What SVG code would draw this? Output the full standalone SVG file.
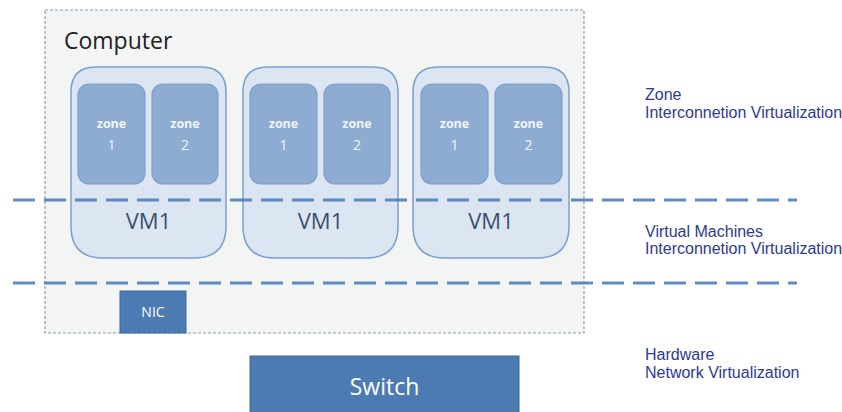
<svg xmlns="http://www.w3.org/2000/svg" width="842" height="412" viewBox="0 0 842 412">
  <style>
    .computer { fill: #f3f4f4; stroke: #8a9bb3; stroke-width: 1.2; stroke-dasharray: 3 2; }
    .vm { fill: #dce6f2; stroke: #7d9fcd; stroke-width: 1.5; }
    .zone { fill: #8eabd1; stroke: #7d9fcd; stroke-width: 1.2; }
    .hw { fill: #4b7bb2; stroke: #41699a; stroke-width: 1; }
    .layer { stroke: #4f7fbd; stroke-width: 3; stroke-dasharray: 22 9; fill: none; opacity: 0.9; }
    .zt { font-family: "Open Sans", "DejaVu Sans", sans-serif; font-weight: bold; font-size: 12.5px; fill: #f2f5fa; text-anchor: middle; }
    .zn { font-family: "Open Sans", "DejaVu Sans", sans-serif; font-size: 14px; fill: #f2f5fa; text-anchor: middle; }
    .vmt { font-family: "Open Sans", "DejaVu Sans", sans-serif; font-size: 22px; fill: #3b4f6e; text-anchor: middle; }
    .side { font-family: "Liberation Sans", Arial, sans-serif; font-size: 16px; fill: #2e3a94; }
    .hwt { font-family: "Open Sans", "DejaVu Sans", sans-serif; fill: #ffffff; text-anchor: middle; }
  </style>

  <!-- host machine -->
  <g id="computer">
    <rect class="computer" x="45" y="10" width="539" height="323"/>
    <text x="64" y="49" font-family="'Open Sans', 'DejaVu Sans', sans-serif" font-size="23" fill="#222222">Computer</text>
  </g>

  <!-- virtual machine A -->
  <g id="vm-a">
    <path class="vm" d="M96 67 H201 Q226 67 226 92 V226 Q226 258 194 258 H103 Q71 258 71 226 V92 Q71 67 96 67 Z"/>
    <rect class="zone" x="78" y="84" width="67" height="100" rx="11"/>
    <text class="zt" x="111.5" y="128">zone</text>
    <text class="zn" x="111.5" y="150">1</text>
    <rect class="zone" x="152" y="84" width="66" height="100" rx="11"/>
    <text class="zt" x="185" y="128">zone</text>
    <text class="zn" x="185" y="150">2</text>
    <text class="vmt" x="148.5" y="229">VM1</text>
  </g>

  <!-- virtual machine B -->
  <g id="vm-b">
    <path class="vm" d="M268 67 H373 Q398 67 398 92 V226 Q398 258 366 258 H275 Q243 258 243 226 V92 Q243 67 268 67 Z"/>
    <rect class="zone" x="250" y="84" width="67" height="100" rx="11"/>
    <text class="zt" x="283.5" y="128">zone</text>
    <text class="zn" x="283.5" y="150">1</text>
    <rect class="zone" x="324" y="84" width="66" height="100" rx="11"/>
    <text class="zt" x="357" y="128">zone</text>
    <text class="zn" x="357" y="150">2</text>
    <text class="vmt" x="320.5" y="229">VM1</text>
  </g>

  <!-- virtual machine C -->
  <g id="vm-c">
    <path class="vm" d="M438 67 H544 Q569 67 569 92 V226 Q569 258 537 258 H445 Q413 258 413 226 V92 Q413 67 438 67 Z"/>
    <rect class="zone" x="421" y="84" width="67" height="100" rx="11"/>
    <text class="zt" x="454.5" y="128">zone</text>
    <text class="zn" x="454.5" y="150">1</text>
    <rect class="zone" x="495" y="84" width="67" height="100" rx="11"/>
    <text class="zt" x="528.5" y="128">zone</text>
    <text class="zn" x="528.5" y="150">2</text>
    <text class="vmt" x="491" y="229">VM1</text>
  </g>

  <!-- network interface card -->
  <g id="nic">
    <rect class="hw" x="120" y="291" width="66" height="42"/>
    <text class="hwt" x="153" y="317" font-size="14">NIC</text>
  </g>

  <!-- physical switch -->
  <g id="switch">
    <rect class="hw" x="250" y="356" width="269" height="58"/>
    <text class="hwt" x="384.5" y="395" font-size="23">Switch</text>
  </g>

  <!-- layer boundaries -->
  <g id="connectors">
    <line class="layer" x1="13" y1="200" x2="797" y2="200"/>
    <line class="layer" x1="13" y1="283" x2="797" y2="283"/>
  </g>

  <!-- layer captions -->
  <g id="captions">
    <text class="side" x="645" y="100">Zone</text>
    <text class="side" x="645" y="118">Interconnetion Virtualization</text>
    <text class="side" x="645" y="237">Virtual Machines</text>
    <text class="side" x="645" y="254">Interconnetion Virtualization</text>
    <text class="side" x="645" y="360">Hardware</text>
    <text class="side" x="645" y="378">Network Virtualization</text>
  </g>
</svg>
